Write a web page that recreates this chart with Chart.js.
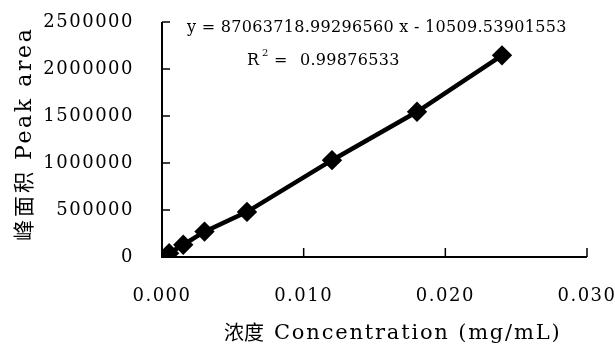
<!DOCTYPE html>
<html>
<head>
<meta charset="utf-8">
<script src="https://cdn.jsdelivr.net/npm/chart.js@4/dist/chart.umd.min.js"></script>
<style>
  html, body { margin: 0; padding: 0; background: #ffffff; }
  #wrap { width: 615px; height: 346px; }
</style>
</head>
<body>
<div id="wrap"><canvas id="calibChart" width="615" height="346"></canvas></div>
<script>
// calibration points
const concentration = [0.0005, 0.0015, 0.003, 0.006, 0.012, 0.018, 0.024];
const peakArea = [40000, 130000, 270000, 480000, 1030000, 1545000, 2145000];

const xTickValues = [0, 0.01, 0.02, 0.03];
const yTickValues = [0, 500000, 1000000, 1500000, 2000000, 2500000];

const equationText = "y = 87063718.99296560 x - 10509.53901553";
const r2Value = "0.99876533";
const xTitleCn = "浓度";
const xTitleEn = "Concentration (mg/mL)";
const yTitleCn = "峰面积";
const yTitleEn = "Peak area";

const serif = '"DejaVu Serif", "Liberation Serif", serif';
const cjk = '"Noto Sans CJK SC", sans-serif';

const points = concentration.map((c, i) => ({ x: c, y: peakArea[i] }));

// inward tick marks, like the original plot
const inwardTicks = {
  id: "inwardTicks",
  afterDatasetsDraw(chart) {
    const ctx = chart.ctx;
    const xs = chart.scales.x, ys = chart.scales.y;
    const area = chart.chartArea;
    ctx.save();
    ctx.strokeStyle = "#000";
    ctx.lineWidth = 2;
    ctx.beginPath();
    ctx.moveTo(area.left, area.top);
    ctx.lineTo(area.left, area.bottom);
    ctx.lineTo(area.right, area.bottom);
    ctx.stroke();
    ctx.lineWidth = 1.5;
    yTickValues.forEach(v => {
      const py = ys.getPixelForValue(v);
      ctx.beginPath();
      ctx.moveTo(area.left, py);
      ctx.lineTo(area.left + 8, py);
      ctx.stroke();
    });
    xTickValues.forEach(v => {
      const px = xs.getPixelForValue(v);
      ctx.beginPath();
      ctx.moveTo(px, area.bottom);
      ctx.lineTo(px, area.bottom - 9);
      ctx.stroke();
    });
    ctx.restore();
  }
};

// equation, R squared and both axis titles
const labelsPlugin = {
  id: "labelsPlugin",
  afterDraw(chart) {
    const ctx = chart.ctx;
    const area = chart.chartArea;
    ctx.save();
    ctx.fillStyle = "#000";
    ctx.textBaseline = "alphabetic";
    ctx.textAlign = "left";

    ctx.font = "16px " + serif;
    ctx.letterSpacing = "0.3px";
    ctx.fillText(equationText, area.left + 25, 32);

    ctx.fillText("R", area.left + 85, 65);
    ctx.font = "10px " + serif;
    ctx.fillText("2", area.left + 100, 56);
    ctx.font = "16px " + serif;
    ctx.fillText("=", area.left + 112, 65);
    ctx.fillText(r2Value, area.left + 138, 65);

    // x title
    ctx.font = "20px " + cjk;
    ctx.letterSpacing = "0px";
    ctx.fillText(xTitleCn, 224, 340);
    ctx.font = "21px " + serif;
    ctx.letterSpacing = "1.8px";
    ctx.fillText(xTitleEn, 274, 339);

    // y title, rotated
    ctx.translate(31, 241);
    ctx.rotate(-Math.PI / 2);
    ctx.font = "21px " + cjk;
    ctx.letterSpacing = "3px";
    ctx.fillText(yTitleCn, 0, 0);
    ctx.font = "22px " + serif;
    ctx.letterSpacing = "2.6px";
    ctx.fillText(yTitleEn, 81, 0);
    ctx.restore();
  }
};

const tickSpacing = {
  id: "tickSpacing",
  beforeDraw(chart) { chart.ctx.letterSpacing = "1.5px"; },
  afterDraw(chart) { chart.ctx.letterSpacing = "0px"; }
};

new Chart(document.getElementById("calibChart"), {
  type: "scatter",
  data: {
    datasets: [{
      data: points,
      showLine: true,
      borderColor: "#000",
      backgroundColor: "#000",
      borderWidth: 4.5,
      pointStyle: "rectRot",
      pointRadius: 7,
      pointHoverRadius: 7,
      tension: 0
    }]
  },
  options: {
    responsive: false,
    animation: false,
    layout: { padding: { top: 22, right: 28, left: 0, bottom: 0 } },
    plugins: {
      legend: { display: false },
      tooltip: { enabled: false }
    },
    scales: {
      x: {
        type: "linear",
        min: 0,
        max: 0.03,
        afterBuildTicks(scale) { scale.ticks = xTickValues.map(v => ({ value: v })); },
        afterFit(scale) {
          scale.height = 89;
          scale.paddingLeft = 0; scale.paddingRight = 0;
        },
        border: { display: false },
        grid: { display: false },
        ticks: {
          color: "#000",
          padding: 21,
          maxRotation: 0,
          font: { family: serif, size: 18 },
          callback: v => v.toFixed(3)
        }
      },
      y: {
        min: 0,
        max: 2500000,
        afterBuildTicks(scale) { scale.ticks = yTickValues.map(v => ({ value: v })); },
        afterFit(scale) {
          scale.width = 162;
          scale.paddingTop = 0; scale.paddingBottom = 0;
        },
        border: { display: false },
        grid: { display: false },
        ticks: {
          color: "#000",
          padding: 20,
          font: { family: serif, size: 18 },
          callback: v => String(v)
        }
      }
    }
  },
  plugins: [tickSpacing, inwardTicks, labelsPlugin]
});
</script>
</body>
</html>
